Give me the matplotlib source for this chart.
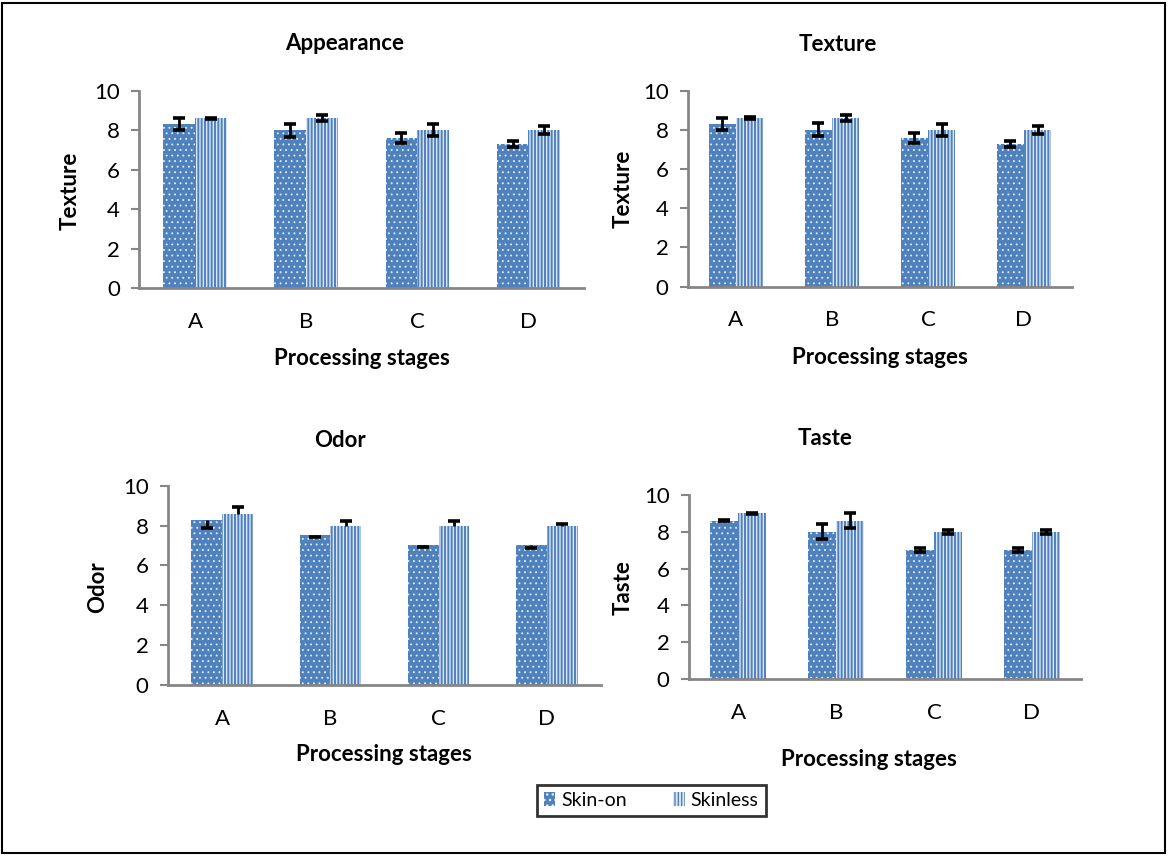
import matplotlib
matplotlib.use('Agg')
import matplotlib.pyplot as plt
import matplotlib.patches as mpatches
import numpy as np

plt.rcParams['font.family'] = ['Lato', 'DejaVu Sans']

# Data
stages = ['A', 'B', 'C', 'D']

appearance_skin_on = [8.3, 8.0, 7.6, 7.3]
appearance_skin_on_err = [0.3, 0.33, 0.25, 0.15]
appearance_skinless = [8.6, 8.6, 8.0, 8.0]
appearance_skinless_err = [0.04, 0.15, 0.3, 0.2]

texture_skin_on = [8.3, 8.0, 7.6, 7.3]
texture_skin_on_err = [0.3, 0.33, 0.25, 0.15]
texture_skinless = [8.6, 8.6, 8.0, 8.0]
texture_skinless_err = [0.04, 0.15, 0.3, 0.2]

odor_skin_on = [8.3, 7.55, 7.0, 7.0]
odor_skin_on_err = [0.4, 0.1, 0.08, 0.12]    # only drawn below the bar
odor_skinless = [8.6, 8.0, 8.0, 8.0]
odor_skinless_err = [0.33, 0.23, 0.23, 0.08]  # only drawn above the bar

taste_skin_on = [8.6, 8.0, 7.0, 7.0]
taste_skin_on_err = [0.03, 0.4, 0.12, 0.12]
taste_skinless = [9.0, 8.6, 8.0, 8.0]
taste_skinless_err = [0.03, 0.4, 0.12, 0.12]

blue = '#4F81BD'
axis_grey = '#868686'
bar_w = 0.285

fig = plt.figure(figsize=(11.69, 8.56), dpi=100)

# panel layout (left, bottom, width, height) in figure fraction
panels = [
    dict(rect=[0.1193, 0.6632, 0.3802, 0.2308], title='Appearance', ylabel='Texture',
         on=appearance_skin_on, on_err=appearance_skin_on_err,
         less=appearance_skinless, less_err=appearance_skinless_err,
         title_xy=(0.462, 1.241), xl_xy=(0.5, -0.353), yl_xy=(-0.156, 0.492), one_sided=False),
    dict(rect=[0.5885, 0.6651, 0.3285, 0.2290], title='Texture', ylabel='Texture',
         on=texture_skin_on, on_err=texture_skin_on_err,
         less=texture_skinless, less_err=texture_skinless_err,
         title_xy=(0.391, 1.233), xl_xy=(0.5, -0.359), yl_xy=(-0.169, 0.498), one_sided=False),
    dict(rect=[0.1437, 0.1998, 0.3704, 0.2328], title='Odor', ylabel='Odor',
         on=odor_skin_on, on_err=odor_skin_on_err,
         less=odor_skinless, less_err=odor_skinless_err,
         title_xy=(0.397, 1.229), xl_xy=(0.499, -0.351), yl_xy=(-0.162, 0.489), one_sided=True),
    dict(rect=[0.5894, 0.2068, 0.3353, 0.2150], title='Taste', ylabel='Taste',
         on=taste_skin_on, on_err=taste_skin_on_err,
         less=taste_skinless, less_err=taste_skinless_err,
         title_xy=(0.347, 1.304), xl_xy=(0.459, -0.44), yl_xy=(-0.168, 0.497), one_sided=False),
]

x = np.arange(len(stages))


def draw_err(ax, xs, ys, lower, upper):
    # stem + caps drawn separately so a one-sided bar gets only one cap
    ys = np.array(ys)
    lower = np.array(lower)
    upper = np.array(upper)
    ax.errorbar(xs, ys, yerr=[lower, upper], fmt='none', ecolor='black', elinewidth=2, capsize=0)
    if lower.any():
        ax.plot(xs[lower > 0], (ys - lower)[lower > 0], ls='none', marker='_', ms=9, mew=2.6, color='black')
    if upper.any():
        ax.plot(xs[upper > 0], (ys + upper)[upper > 0], ls='none', marker='_', ms=9, mew=2.6, color='black')


for p in panels:
    ax = fig.add_axes(p['rect'])
    with plt.rc_context({'hatch.linewidth': 0.6}):
        b1 = ax.bar(x - bar_w / 2, p['on'], width=bar_w, color=blue, edgecolor='#E6EEF8',
                    linewidth=0, hatch='...', label='Skin-on')
    with plt.rc_context({'hatch.linewidth': 1.4}):
        b2 = ax.bar(x + bar_w / 2, p['less'], width=bar_w, color='#DCE6F2', edgecolor=blue,
                    linewidth=0, hatch='|||||', label='Skinless')
    for r in b1:
        if hasattr(r, 'set_hatch_linewidth'):
            r.set_hatch_linewidth(0.6)
    for r in b2:
        if hasattr(r, 'set_hatch_linewidth'):
            r.set_hatch_linewidth(1.4)

    n = len(stages)
    if p['one_sided']:
        draw_err(ax, x - bar_w / 2, p['on'], p['on_err'], [0] * n)
        draw_err(ax, x + bar_w / 2, p['less'], [0] * n, p['less_err'])
    else:
        draw_err(ax, x - bar_w / 2, p['on'], p['on_err'], p['on_err'])
        draw_err(ax, x + bar_w / 2, p['less'], p['less_err'], p['less_err'])

    ax.set_xlim(-0.5, n - 0.5)
    ax.set_ylim(0, 10)
    ax.set_yticks([0, 2, 4, 6, 8, 10])
    ax.set_xticks(x)
    ax.set_xticklabels(stages)

    for s in ['top', 'right']:
        ax.spines[s].set_visible(False)
    for s in ['left', 'bottom']:
        ax.spines[s].set_color(axis_grey)
        ax.spines[s].set_linewidth(2)
    ax.tick_params(axis='y', direction='out', length=6, width=1.5, color=axis_grey,
                   labelsize=16, pad=8)
    ax.tick_params(axis='x', length=0, labelsize=16, pad=17)

    ax.text(p['title_xy'][0], p['title_xy'][1], p['title'], transform=ax.transAxes,
            ha='center', va='center', fontsize=16, fontweight='bold')
    ax.set_xlabel('Processing stages', fontsize=16, fontweight='bold', va='center')
    ax.xaxis.set_label_coords(*p['xl_xy'])
    ax.set_ylabel(p['ylabel'], fontsize=16, fontweight='bold', va='center')
    ax.yaxis.set_label_coords(*p['yl_xy'])

handles = [b1, b2]
leg = fig.legend(handles, ['Skin-on', 'Skinless'], loc='center', bbox_to_anchor=(0.557, 0.0648),
                 ncol=2, fontsize=14, frameon=True, fancybox=False, handlelength=0.6,
                 handleheight=0.7, handletextpad=0.3, columnspacing=2.4, borderpad=0.35,
                 borderaxespad=0)
leg.get_frame().set_edgecolor('black')
leg.get_frame().set_linewidth(2)

# outer border
fig.patches.append(mpatches.Rectangle((0.002, 0.004), 0.995, 0.993, transform=fig.transFigure,
                                      fill=False, edgecolor='black', linewidth=1.5))

fig.savefig('out.png', dpi=100)
